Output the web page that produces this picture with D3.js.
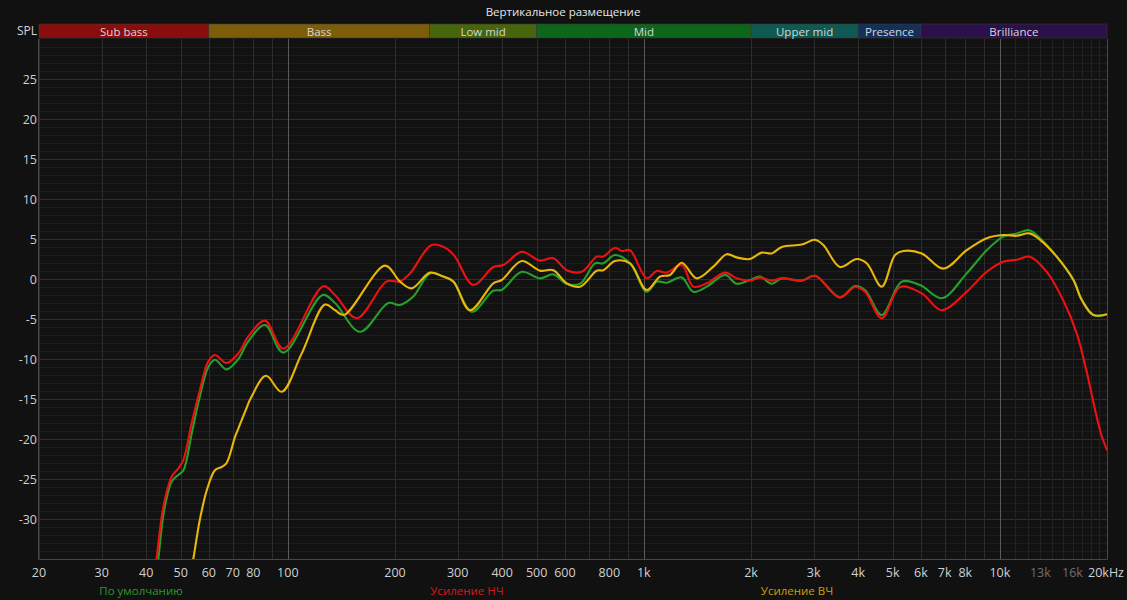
<!DOCTYPE html>
<html><head><meta charset="utf-8">
<script src="https://cdn.jsdelivr.net/npm/d3@7"></script>
<style>
html,body{margin:0;padding:0;background:#111111;}
svg{display:block;font-family:"Open Sans","Noto Sans",sans-serif;}
</style></head>
<body><svg id="c" width="1127" height="600"></svg>
<script>
// ---------- data ----------
const chartTitle = "Вертикальное размещение";
const seriesNames = ["По умолчанию", "Усиление НЧ", "Усиление ВЧ"];

const freqDefault = [42.1,43.3,44.9,47.2,49.2,50.9,53.7,56.6,59.8,62.4,67.3,72.6,77.4,86.3,97.1,125.3,135.7,159.5,191.5,206.6,225.1,250.8,273.3,291.6,328.5,377.7,398.8,453.9,510.9,556.8,607.3,661.9,729.3,769.6,829.9,914.4,1018.7,1087,1159.6,1277.6,1377.2,1502,1690.4,1823.3,1987.1,2120.1,2286.8,2439.7,2776.9,3026.5,3556.6,3919.1,4180.9,4658,5302.2,5968.3,6866,8071,9186.5,10227,11152,12099,12970,14446,16085,16983,18306,20000];
const splDefault  = [-39.5,-34.9,-29,-25.3,-24.5,-23.9,-19.3,-14.7,-11,-10.1,-11.3,-10,-7.8,-5.75,-9.2,-2,-3,-6.6,-3,-3.25,-2.2,0.7,0.3,-0.3,-4.1,-1.46,-1.37,0.9,0.08,0.58,-0.6,-0.6,1.96,1.96,3,1.96,-1.6,-0.33,-0.46,0.2,-1.6,-0.96,0.5,-0.6,-0.125,0.3,-0.6,0.08,-0.2,0.4,-2.3,-0.875,-1.37,-4.5,-0.33,-0.75,-2.4,0.7,3.6,5.3,5.7,6.1,5.1,2.8,-0.1,-2.6,-4.5,-4.4];

const freqBass = [41.5,42.8,44.7,47.2,49.2,50.9,53.7,56.6,59.8,62.4,67.3,72.6,77.4,86.3,97.1,125.8,135.7,156.1,189.6,206.6,220.4,253.6,279.4,294.8,331.9,377.7,403,453.9,510.9,556.8,607.3,669.2,737.4,769.6,829.9,866.6,914.4,1018.7,1087,1159.6,1277.6,1377.2,1502,1690.4,1823.3,1987.1,2120.1,2286.8,2439.7,2776.9,3026.5,3556.6,3919.1,4180.9,4658,5244.3,6034.3,6866,8071,9186.5,10227,11152,12099,13545,15047,16443,17540,18508,19320,20000];
const splBass  = [-39.5,-34.9,-28.5,-24.7,-23.7,-22.6,-18,-13.9,-10.3,-9.5,-10.5,-9.3,-7.2,-5.2,-8.7,-0.9,-2,-4.9,-0.3,-0.3,0.7,4.25,3.8,2.8,-0.75,1.5,1.75,3.4,2.3,2.6,1.1,0.9,2.8,2.8,3.9,3.5,3.6,0.1,1,0.8,1.75,-0.96,-0.54,0.8,0.1,-0.2,0.17,-0.2,0.08,-0.2,0.4,-2.3,-1,-1.6,-4.9,-1,-1.8,-3.9,-1.6,0.9,2.17,2.4,2.8,0.9,-2.6,-6.8,-11.6,-16.3,-19.6,-21.4];

const freqTreble = [52.4,54.3,56.6,59.2,62.4,65.2,67.3,71.1,72.6,75.8,79.1,86.8,96.1,109.4,127.2,135.7,143.8,187.5,206.6,222.8,250.8,273.3,291.6,324.9,377.7,398.8,453.9,510.9,556.8,607.3,661.9,737.4,769.6,829.9,914.4,1018.7,1110.4,1184.6,1277.6,1407.8,1567.6,1709.1,1823.3,1987.1,2143.6,2286.8,2439.7,2776.9,3026.5,3192.7,3556.6,3962.5,4227.2,4658,5077.3,5357.5,6034.3,6937.6,8071,9186.5,10227,11152,12099,12970,14446,16085,16983,18306,20000];
const splTreble  = [-38.7,-34.9,-30.1,-26.4,-23.9,-23.5,-23,-19.7,-18.7,-16.6,-14.7,-12.1,-14.1,-9.3,-3.2,-3.9,-4.5,1.67,-0.33,-1.17,0.8,0.3,-0.3,-3.9,-0.54,-0.125,2.25,1.04,1.1,-0.54,-0.96,1.04,1.1,2.25,1.96,-1.37,0.3,0.5,2.04,0.08,1.54,3.1,2.7,2.5,3.3,3.2,4,4.3,4.9,4.25,1.5,2.5,1.96,-0.96,3,3.5,3.2,1.3,3.6,5.1,5.5,5.4,5.7,4.9,2.8,-0.1,-2.6,-4.5,-4.4];

const yTicks = [-30,-25,-20,-15,-10,-5,0,5,10,15,20,25];
const xTickValues = [20,30,40,50,60,70,80,100,200,300,400,500,600,800,1000,2000,3000,4000,5000,6000,7000,8000,10000,13000,16000,20000];
const xTickLabels = ["20","30","40","50","60","70","80","100","200","300","400","500","600","800","1k","2k","3k","4k","5k","6k","7k","8k","10k","13k","16k","20kHz"];
const dimLabels = ["13k","16k"];

const bandNames = ["Sub bass","Bass","Low mid","Mid","Upper mid","Presence","Brilliance"];
const bandStart = [20,60,250,500,2000,4000,6000];
const bandEnd   = [60,250,500,2000,4000,6000,20000];

// ---------- style ----------
const bandColors = ["#8a0c0c","#7c5e0a","#47650c","#0e661a","#0e5a52","#13305c","#2b1049"];
const seriesColors = ["#23a12b","#ee1111","#e8b70a"];
const legendColors = ["#2b9a2b","#d8191b","#cf9f06"];

const W = 1127, H = 600;
const L = 39, R = 1107, T = 39, B = 559;
const svg = d3.select("#c");
svg.append("rect").attr("width",W).attr("height",H).attr("fill","#111111");

const x = d3.scaleLog().domain([20,20000]).range([L,R]);
const y = d3.scaleLinear().domain([-35,30]).range([B,T]);

svg.append("rect").attr("x",L).attr("y",T).attr("width",R-L).attr("height",B-T).attr("fill","#121212");

// minor horizontal grid (1 dB)
const minorY = d3.range(-34,30,1).filter(v => v % 5 !== 0);
svg.append("g").selectAll("line").data(minorY).join("line")
  .attr("x1",L).attr("x2",R).attr("y1",d=>y(d)+0.5).attr("y2",d=>y(d)+0.5)
  .attr("stroke","#1d1d1d").attr("stroke-width",1);
// major horizontal grid
svg.append("g").selectAll("line").data(d3.range(-30,30,5)).join("line")
  .attr("x1",L).attr("x2",R).attr("y1",d=>y(d)+0.5).attr("y2",d=>y(d)+0.5)
  .attr("stroke","#2f2f2f").attr("stroke-width",1);

// vertical grid
const vLines = [];
[10,100,1000,10000].forEach(dec => { for (let k=1;k<10;k++){ const f=dec*k; if(f>=20 && f<=20000) vLines.push(f);} });
for (let k=11;k<20;k++) vLines.push(k*1000);
vLines.push(20000);
const isDecade = f => f===100||f===1000||f===10000;
svg.append("g").selectAll("line").data(vLines.filter(f=>!isDecade(f))).join("line")
  .attr("x1",d=>Math.round(x(d))+0.5).attr("x2",d=>Math.round(x(d))+0.5).attr("y1",T).attr("y2",B)
  .attr("stroke",d=> d>10000 && d<20000 ? "#222222" : "#2d2d2d").attr("stroke-width",1);
svg.append("g").selectAll("line").data([100,1000,10000]).join("line")
  .attr("x1",d=>Math.round(x(d))+0.5).attr("x2",d=>Math.round(x(d))+0.5).attr("y1",T).attr("y2",B)
  .attr("stroke","#5a5a5a").attr("stroke-width",1);

// plot frame
svg.append("line").attr("x1",L-0.5).attr("x2",L-0.5).attr("y1",T).attr("y2",B+0.5).attr("stroke","#474747");
svg.append("line").attr("x1",R+0.5).attr("x2",R+0.5).attr("y1",T).attr("y2",B+0.5).attr("stroke","#474747");
svg.append("line").attr("x1",L-0.5).attr("x2",R+0.5).attr("y1",B+0.5).attr("y2",B+0.5).attr("stroke","#474747");

// frequency bands header
const bands = bandNames.map((n,i)=>({name:n,s:bandStart[i],e:bandEnd[i],c:bandColors[i]}));
const bg = svg.append("g");
bg.selectAll("rect").data(bands).join("rect")
  .attr("x",d=>x(d.s)).attr("width",d=>x(d.e)-x(d.s)).attr("y",24).attr("height",14)
  .attr("fill",d=>d.c).attr("stroke","#3a3a3a").attr("stroke-width",0.6);
bg.selectAll("text").data(bands).join("text")
  .attr("x",d=>(x(d.s)+x(d.e))/2).attr("y",35.5).attr("text-anchor","middle")
  .attr("font-size",11.5).attr("fill","#d6d6d6").text(d=>d.name);

// title & SPL
svg.append("text").attr("x",563).attr("y",15.5).attr("text-anchor","middle")
  .attr("font-size",11.5).attr("fill","#e6e6e6").text(chartTitle);
svg.append("text").attr("x",37).attr("y",35).attr("text-anchor","end")
  .attr("font-size",12).attr("fill","#d6d6d6").text("SPL");

// y axis labels
svg.append("g").selectAll("text").data(yTicks).join("text")
  .attr("x",37).attr("y",d=>y(d)+4.5).attr("text-anchor","end")
  .attr("font-size",12.5).attr("fill","#cfcfcf").text(d=>d);

// x axis labels
svg.append("g").selectAll("text").data(xTickValues).join("text")
  .attr("x",(d,i)=> xTickLabels[i]==="20kHz" ? x(d)-1 : x(d)).attr("y",576.5)
  .attr("text-anchor","middle")
  .attr("font-size",12.5)
  .attr("fill",(d,i)=> dimLabels.includes(xTickLabels[i]) ? "#707070" : "#d0d0d0")
  .text((d,i)=>xTickLabels[i]);

// curves
svg.append("clipPath").attr("id","plotclip").append("rect")
  .attr("x",L).attr("y",T).attr("width",R-L+1).attr("height",B-T);
const line = d3.line().x(d=>x(d[0])).y(d=>y(d[1])).curve(d3.curveCatmullRom.alpha(0.5));
const series = [
  {f:freqDefault, v:splDefault, c:seriesColors[0]},
  {f:freqBass, v:splBass, c:seriesColors[1]},
  {f:freqTreble, v:splTreble, c:seriesColors[2]}
];
const cg = svg.append("g").attr("clip-path","url(#plotclip)");
series.forEach(s=>{
  cg.append("path").datum(s.f.map((f,i)=>[f,s.v[i]]))
    .attr("d",line).attr("fill","none").attr("stroke",s.c).attr("stroke-width",2.1)
    .attr("stroke-linejoin","round");
});

// legend
const legendX = [141,467,797];
svg.append("g").selectAll("text").data(seriesNames).join("text")
  .attr("x",(d,i)=>legendX[i]).attr("y",594.5).attr("text-anchor","middle")
  .attr("font-size",11.5).attr("fill",(d,i)=>legendColors[i]).text(d=>d);
</script>
</body></html>
